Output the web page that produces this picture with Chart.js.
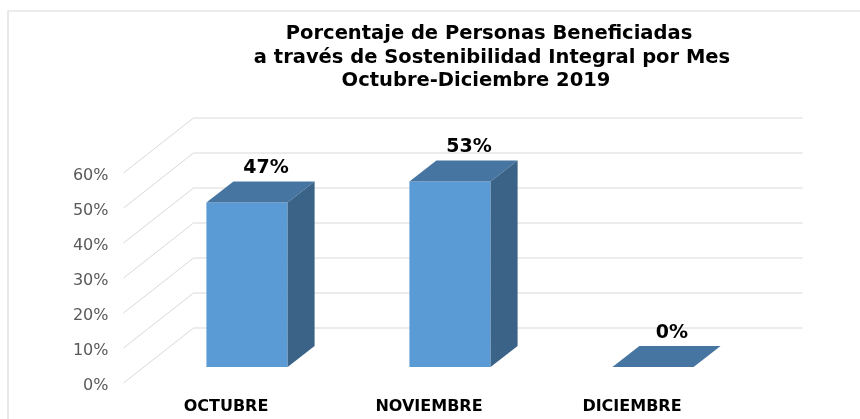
<!DOCTYPE html>
<html>
<head>
<meta charset="utf-8">
<script src="https://cdn.jsdelivr.net/npm/chart.js@4/dist/chart.umd.min.js"></script>
<style>
  html, body { margin: 0; padding: 0; background: #ffffff; }
  #wrap { width: 860px; height: 419px; position: relative; }
</style>
</head>
<body>
<div id="wrap"><canvas id="c" width="860" height="419"></canvas></div>
<script>
const categories = ['OCTUBRE', 'NOVIEMBRE', 'DICIEMBRE'];
const values = [47, 53, 0];
const yTickValues = [0, 10, 20, 30, 40, 50, 60];
const titleLines = [
  'Porcentaje de Personas Beneficiadas',
  'a través de Sostenibilidad Integral por Mes',
  'Octubre-Diciembre 2019'
];

const FONT = '"DejaVu Sans", Verdana, sans-serif';
const GRID = '#d9d9d9';
const FRONT = '#5b9bd5';
const TOP = '#4675a1';
const SIDE = '#3a6387';

// perspective offsets (relative to bar plane)
const FDX = -22, FDY = 16;   // front of floor
const BDX = 48, BDY = -39;   // back wall
const DDX = 27, DDY = -21;   // bar depth

const framePlugin = {
  id: 'frame',
  beforeDraw(chart) {
    const ctx = chart.ctx;
    ctx.save();
    ctx.fillStyle = '#ffffff';
    ctx.fillRect(0, 0, chart.width, chart.height);
    ctx.strokeStyle = GRID;
    ctx.lineWidth = 1.2;
    ctx.beginPath();
    ctx.moveTo(8, chart.height + 5);
    ctx.lineTo(8, 11);
    ctx.lineTo(chart.width + 5, 11);
    ctx.stroke();
    ctx.restore();
  }
};

const wallPlugin = {
  id: 'wall',
  beforeDatasetsDraw(chart) {
    const ctx = chart.ctx;
    const y = chart.scales.y;
    const L = chart.chartArea.left, R = chart.chartArea.right;
    ctx.save();
    ctx.strokeStyle = GRID;
    ctx.lineWidth = 1;
    y.ticks.forEach(t => {
      const py = y.getPixelForValue(t.value);
      ctx.beginPath();
      ctx.moveTo(L + FDX, py + FDY);
      ctx.lineTo(L + BDX, py + BDY);
      ctx.lineTo(R + BDX, py + BDY);
      ctx.stroke();
    });
    ctx.restore();
  }
};

const bar3dPlugin = {
  id: 'bar3d',
  afterDatasetsDraw(chart) {
    const ctx = chart.ctx;
    const meta = chart.getDatasetMeta(0);
    ctx.save();
    meta.data.forEach((bar, i) => {
      const p = bar.getProps(['x', 'y', 'base', 'width'], true);
      const l = p.x - p.width / 2, r = p.x + p.width / 2;
      const top = p.y, base = p.base;
      // top face
      ctx.fillStyle = TOP;
      ctx.beginPath();
      ctx.moveTo(l, top);
      ctx.lineTo(l + DDX, top + DDY);
      ctx.lineTo(r + DDX, top + DDY);
      ctx.lineTo(r, top);
      ctx.closePath();
      ctx.fill();
      // side face
      if (base - top > 0.5) {
        ctx.fillStyle = SIDE;
        ctx.beginPath();
        ctx.moveTo(r, top);
        ctx.lineTo(r + DDX, top + DDY);
        ctx.lineTo(r + DDX, base + DDY);
        ctx.lineTo(r, base);
        ctx.closePath();
        ctx.fill();
      }
      // data label
      ctx.fillStyle = '#000000';
      ctx.font = 'bold 19px ' + FONT;
      ctx.textAlign = 'center';
      ctx.textBaseline = 'middle';
      ctx.fillText(values[i] + '%', p.x + 19, top + DDY - 13);
    });
    ctx.restore();
  }
};

const titlePlugin = {
  id: 'customTitle',
  afterDraw(chart) {
    const ctx = chart.ctx;
    ctx.save();
    ctx.fillStyle = '#000000';
    ctx.font = 'bold 19.5px ' + FONT;
    ctx.textAlign = 'center';
    ctx.textBaseline = 'middle';
    const xs = [489, 492, 476];
    const ys = [34, 57.5, 81];
    titleLines.forEach((line, i) => ctx.fillText(line, xs[i], ys[i]));
    ctx.restore();
  }
};

new Chart(document.getElementById('c'), {
  type: 'bar',
  data: {
    labels: categories,
    datasets: [{
      data: values,
      backgroundColor: FRONT,
      borderWidth: 0,
      categoryPercentage: 1.0,
      barPercentage: 0.4
    }]
  },
  options: {
    responsive: false,
    animation: false,
    events: [],
    layout: { padding: { top: 157, right: 105.5, bottom: 0, left: 0 } },
    plugins: {
      legend: { display: false },
      title: { display: false },
      tooltip: { enabled: false }
    },
    scales: {
      x: {
        grid: { display: false, drawTicks: false },
        border: { display: false },
        ticks: {
          color: '#000000',
          font: { family: FONT, size: 16, weight: 'bold' },
          padding: 30,
          labelOffset: -21,
          maxRotation: 0,
          autoSkip: false
        },
        afterFit(scale) { scale.height = 52; }
      },
      y: {
        min: 0,
        max: 60,
        afterBuildTicks(scale) { scale.ticks = yTickValues.map(v => ({ value: v })); },
        grid: { display: false, drawTicks: false },
        border: { display: false },
        ticks: {
          color: '#595959',
          font: { family: FONT, size: 16 },
          padding: 37,
          labelOffset: 19,
          callback: v => v + '%'
        },
        afterFit(scale) { scale.width = 145.5; }
      }
    }
  },
  plugins: [framePlugin, wallPlugin, bar3dPlugin, titlePlugin]
});
</script>
</body>
</html>
